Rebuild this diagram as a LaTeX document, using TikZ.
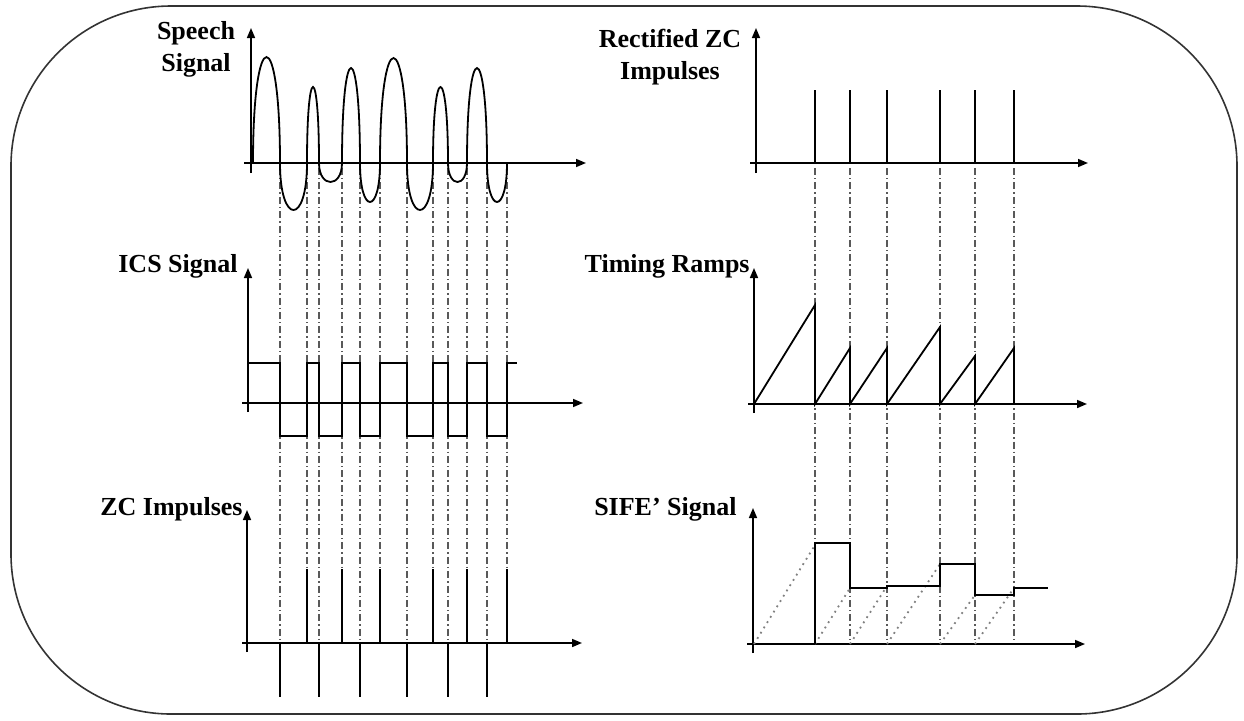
\documentclass[tikz,border=0pt]{standalone}
\usepackage{fontspec}
\setmainfont{Liberation Serif}
\usetikzlibrary{arrows.meta}
\tikzset{
  lbl/.style={font=\bfseries\fontsize{13}{16}\selectfont, inner sep=0pt, align=center},
  axis/.style={line width=0.8pt, -{Triangle[length=5pt, width=4pt]}},
  sig/.style={line width=0.9pt, line join=miter},
  guide/.style={line width=0.6pt, black!65, dash pattern=on 3.5pt off 1.5pt on 0.7pt off 1.5pt},
  hold/.style={line width=0.9pt, black!50, dash pattern=on 0.9pt off 2.2pt}
}
\begin{document}
\begin{tikzpicture}[x=0.5pt, y=-0.5pt]
\useasboundingbox (0,0) rectangle (1244,720);
\draw[line width=0.8pt, black!80, rounded corners=80pt] (11,6) rectangle (1237,714);

% zero-crossing guides
\draw[guide] foreach \x in {280,307,319,342,360,380,407,433,448,467,487,507} {(\x,168) -- (\x,640)};
\draw[guide] foreach \x in {815,850,887,940,975,1014} {(\x,168) -- (\x,641)};

% left column: speech, ICS, ZC impulses
\node[lbl] (speech) at (196,49) {Speech\\Signal};
\draw[axis] (244,163) -- (586,163);
\draw[axis] (251,173) -- (251,28);
\foreach \a/\b/\y in {253/280/57, 280/307/210, 307/319/87, 319/342/182, 342/360/68, 360/380/202,
                      380/407/58, 407/433/210, 433/448/87, 448/467/182, 467/487/68, 487/507/202}
  \draw[sig] (\a,163) .. controls (\a,{163+4/3*(\y-163)}) and (\b,{163+4/3*(\y-163)}) .. (\b,163);

\node[lbl, anchor=base east] (ics) at (238,272) {ICS Signal};
\draw[axis] (242,403) -- (583,403);
\draw[axis] (248,412) -- (248,268);
\draw[sig] (248,363) -- (280,363) -- (280,436) -- (307,436) -- (307,363) -- (319,363) -- (319,436)
  -- (342,436) -- (342,363) -- (360,363) -- (360,436) -- (380,436) -- (380,363) -- (407,363)
  -- (407,436) -- (433,436) -- (433,363) -- (448,363) -- (448,436) -- (467,436) -- (467,363)
  -- (487,363) -- (487,436) -- (507,436) -- (507,363) -- (517,363);

\node[lbl, anchor=base east] (zc) at (243,515) {ZC Impulses};
\draw[axis] (242,643) -- (582,643);
\draw[axis] (247,652) -- (247,510);
\foreach \x in {280,319,360,407,448,487} \draw[sig] (\x,643) -- (\x,697);
\foreach \x in {307,342,380,433,467,507} \draw[sig] (\x,643) -- (\x,569);

% right column: rectified impulses, ramps, SIFE'
\node[lbl] (rect) at (670,57) {Rectified ZC\\Impulses};
\draw[axis] (750,163) -- (1088,163);
\draw[axis] (756,173) -- (756,28);
\foreach \x in {815,850,887,940,975,1014} \draw[sig] (\x,163) -- (\x,90);

\node[lbl, anchor=base east] (ramps) at (750,272) {Timing Ramps};
\draw[axis] (748,404) -- (1087,404);
\draw[axis] (754,413) -- (754,268);
\draw[sig] (754,404) -- (815,305) -- (815,404) -- (850,348) -- (850,404) -- (887,348) -- (887,404)
  -- (940,327) -- (940,404) -- (975,356) -- (975,404) -- (1014,348) -- (1014,404);

\node[lbl, anchor=base east] (sife) at (737,515) {SIFE' Signal};
\draw[axis] (747,644) -- (1085,644);
\draw[axis] (753,653) -- (753,508);
\draw[hold] (754,644) -- (815,545);
\draw[hold] (815,644) -- (850,588);
\draw[hold] (850,644) -- (887,586);
\draw[hold] (887,644) -- (940,564);
\draw[hold] (940,644) -- (975,595);
\draw[hold] (975,644) -- (1014,588);
\draw[sig] (815,644) -- (815,543) -- (850,543) -- (850,588) -- (887,588) -- (887,586) -- (940,586)
  -- (940,564) -- (975,564) -- (975,595) -- (1014,595) -- (1014,588) -- (1048,588);
\end{tikzpicture}
\end{document}
